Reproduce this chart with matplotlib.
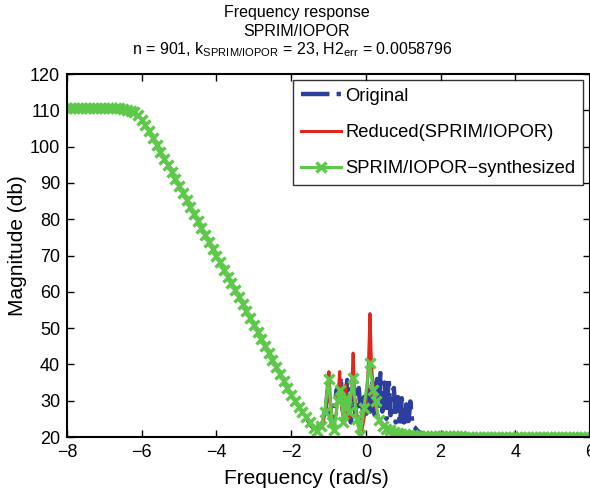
import numpy as np
import matplotlib
matplotlib.use("Agg")
import matplotlib.pyplot as plt

plt.rcParams['font.family'] = ['Liberation Sans', 'DejaVu Sans']
plt.rcParams['mathtext.fontset'] = 'custom'
plt.rcParams['mathtext.rm'] = 'Liberation Sans'
plt.rcParams['mathtext.it'] = 'Liberation Sans'

# ---- data ----
# synthesized (green) curve
green_x = [-8.0, -7.9, -7.8, -7.7, -7.6, -7.5, -7.4, -7.3, -7.2, -7.1,
           -7.0, -6.9, -6.8, -6.7, -6.6, -6.5, -6.4, -6.3, -6.2, -6.1,
           -6.0, -5.9, -5.8, -5.7, -5.6, -5.5, -5.4, -5.3, -5.2, -5.1,
           -5.0, -4.9, -4.8, -4.7, -4.6, -4.5, -4.4, -4.3, -4.2, -4.1,
           -4.0, -3.9, -3.8, -3.7, -3.6, -3.5, -3.4, -3.3, -3.2, -3.1,
           -3.0, -2.9, -2.8, -2.7, -2.6, -2.5, -2.4, -2.3, -2.2, -2.1,
           -2.0, -1.9, -1.8, -1.7, -1.6, -1.5, -1.4, -1.3, -1.2, -1.1,
           -1.0, -0.9, -0.85, -0.75, -0.68, -0.6, -0.54, -0.45, -0.35, -0.25,
           -0.15, -0.05, 0.1, 0.2, 0.26, 0.35, 0.45, 0.55, 0.65, 0.75,
           0.85, 0.95, 1.05, 1.15, 1.25, 1.35, 1.45, 1.55, 1.65, 1.75,
           1.85, 1.95, 2.05, 2.15, 2.25, 2.35, 2.45, 2.55, 2.65, 2.75,
           2.85, 2.95, 3.05, 3.15, 3.25, 3.35, 3.45, 3.55, 3.65, 3.75,
           3.85, 3.95, 4.05, 4.15, 4.25, 4.35, 4.45, 4.55, 4.65, 4.75,
           4.85, 4.95, 5.05, 5.15, 5.25, 5.35, 5.45, 5.55, 5.65, 5.75,
           5.85, 5.95]
green_y = [110.6, 110.6, 110.6, 110.6, 110.6, 110.6, 110.6, 110.6, 110.6, 110.6,
           110.6, 110.6, 110.6, 110.5, 110.5, 110.3, 110.1, 109.8, 109.4, 108.8,
           107.4, 105.9, 104.2, 102.4, 100.5, 98.6, 96.7, 94.8, 92.9, 91.0,
           89.1, 87.2, 85.2, 83.3, 81.4, 79.5, 77.6, 75.7, 73.8, 71.9,
           70.0, 68.1, 66.1, 64.2, 62.3, 60.4, 58.5, 56.6, 54.7, 52.8,
           50.9, 49.0, 47.0, 45.1, 43.2, 41.3, 39.3, 37.4, 35.5, 33.6,
           31.7, 29.8, 28.2, 26.8, 25.5, 24.0, 22.5, 21.6, 23.0, 27.0,
           36.0, 24.0, 22.0, 30.0, 33.0, 24.0, 30.7, 27.0, 36.3, 25.0,
           20.5, 28.0, 40.4, 33.0, 29.8, 24.7, 23.0, 22.3, 21.8, 21.4,
           21.1, 20.9, 20.7, 20.6, 20.5, 20.4, 20.35, 20.3, 20.3, 20.25,
           20.2, 20.2, 20.2, 20.2, 20.15, 20.15, 20.15, 20.15, 20.1, 20.1,
           20.1, 20.1, 20.1, 20.1, 20.1, 20.1, 20.1, 20.1, 20.1, 20.1,
           20.1, 20.1, 20.1, 20.1, 20.1, 20.1, 20.1, 20.1, 20.1, 20.1,
           20.1, 20.1, 20.1, 20.1, 20.1, 20.1, 20.1, 20.1, 20.1, 20.1,
           20.1, 20.1]

# reduced (red) curve, resonance region
red_x = [-1.6, -1.45, -1.3, -1.15, -1.05, -1.02, -0.99, -0.95, -0.88, -0.8,
         -0.74, -0.70, -0.66, -0.6, -0.57, -0.54, -0.51, -0.45, -0.38, -0.34,
         -0.30, -0.2, -0.12, 0.0, 0.07, 0.11, 0.15, 0.22, 0.35, 0.5,
         0.7, 1.0, 1.5]
red_y = [25.5, 23.0, 21.8, 24.0, 28.0, 32.0, 38.0, 30.0, 23.0, 26.0,
         32.0, 38.0, 30.0, 24.0, 29.0, 34.3, 27.0, 25.0, 33.0, 43.1,
         31.0, 23.0, 21.0, 28.0, 40.0, 54.0, 40.0, 30.0, 25.0, 23.0,
         21.5, 20.6, 20.2]

# original (blue) curve, resonance region
blue_x = [-1.6, -1.45, -1.3, -1.15, -1.05, -1.0, -0.95, -0.9, -0.85, -0.78,
          -0.72, -0.67, -0.62, -0.57, -0.5, -0.45, -0.4, -0.33, -0.28, -0.19,
          -0.12, -0.05, 0.0, 0.06, 0.12, 0.18, 0.24, 0.3, 0.35, 0.39,
          0.44, 0.5, 0.55, 0.61, 0.66, 0.7, 0.75, 0.8, 0.86, 0.91,
          0.96, 1.02, 1.08, 1.13, 1.19, 1.25, 1.32, 1.4, 1.6, 2.0]
blue_y = [25.5, 23.0, 21.8, 24.0, 30.0, 35.0, 27.0, 23.0, 28.0, 33.0,
          30.0, 36.5, 27.0, 25.0, 35.7, 28.0, 24.0, 32.0, 26.0, 33.5,
          24.0, 31.0, 25.0, 34.0, 27.0, 35.0, 26.0, 36.0, 28.0, 37.6,
          27.0, 35.0, 25.0, 36.3, 26.0, 32.0, 33.5, 24.0, 31.0, 23.0,
          30.7, 24.0, 29.0, 23.0, 29.8, 23.0, 22.5, 21.5, 20.6, 20.2]

title_lines = ["Frequency response", "SPRIM/IOPOR",
               r"n = 901, k$_{\mathrm{SPRIM/IOPOR}}$ = 23, H2$_{\mathrm{err}}$ = 0.0058796"]
legend_labels = ["Original", "Reduced(SPRIM/IOPOR)", "SPRIM/IOPOR\u2212synthesized"]
xticks = [-8, -6, -4, -2, 0, 2, 4, 6]
yticks = [20, 30, 40, 50, 60, 70, 80, 90, 100, 110, 120]

blue_c = "#2c3f9c"
red_c = "#e1261c"
green_c = "#5dc84a"

W, H = 590, 493
fig = plt.figure(figsize=(W/100, H/100), dpi=100)
ax = fig.add_axes([67/W, 1-437/H, 523/W, (437-74)/H])

ax.plot(blue_x, blue_y, linestyle='-.', color=blue_c, lw=3.2, label=legend_labels[0])
ax.plot(red_x, red_y, linestyle='-', color=red_c, lw=2.2, label=legend_labels[1])
ax.plot(green_x, green_y, linestyle='-', color=green_c, lw=2.2, marker='x',
        markersize=6.5, markeredgewidth=2.4, label=legend_labels[2])

ax.set_xlim(-8, 6)
ax.set_ylim(20, 120)
ax.set_xticks(xticks)
ax.set_yticks(yticks)
ax.tick_params(direction='in', top=True, right=True, length=5, width=1.0,
               labelsize=13, pad=5)
for s in ax.spines.values():
    s.set_linewidth(1.5)

fig.text(306/W, 1-478/H, "Frequency (rad/s)", fontsize=15, ha='center', va='center')
fig.text(18/W, 1-246/H, "Magnitude (db)", fontsize=15, ha='center', va='center',
         rotation=90)

fig.text(297/W, 1-12/H, title_lines[0], fontsize=11.5, ha='center', va='center')
fig.text(297/W, 1-31/H, title_lines[1], fontsize=11.5, ha='center', va='center')
fig.text(292/W, 1-54/H, title_lines[2], fontsize=11.5, ha='center', va='baseline')

leg = ax.legend(loc='upper right', fontsize=13.2, frameon=True, fancybox=False,
                edgecolor='black', bbox_to_anchor=(583/W, 1-80/H),
                bbox_transform=fig.transFigure, borderaxespad=0.0,
                handlelength=2.15, handletextpad=0.25, labelspacing=1.05,
                borderpad=0.42)
leg.get_frame().set_linewidth(1.0)

fig.savefig("out.png", dpi=100)
